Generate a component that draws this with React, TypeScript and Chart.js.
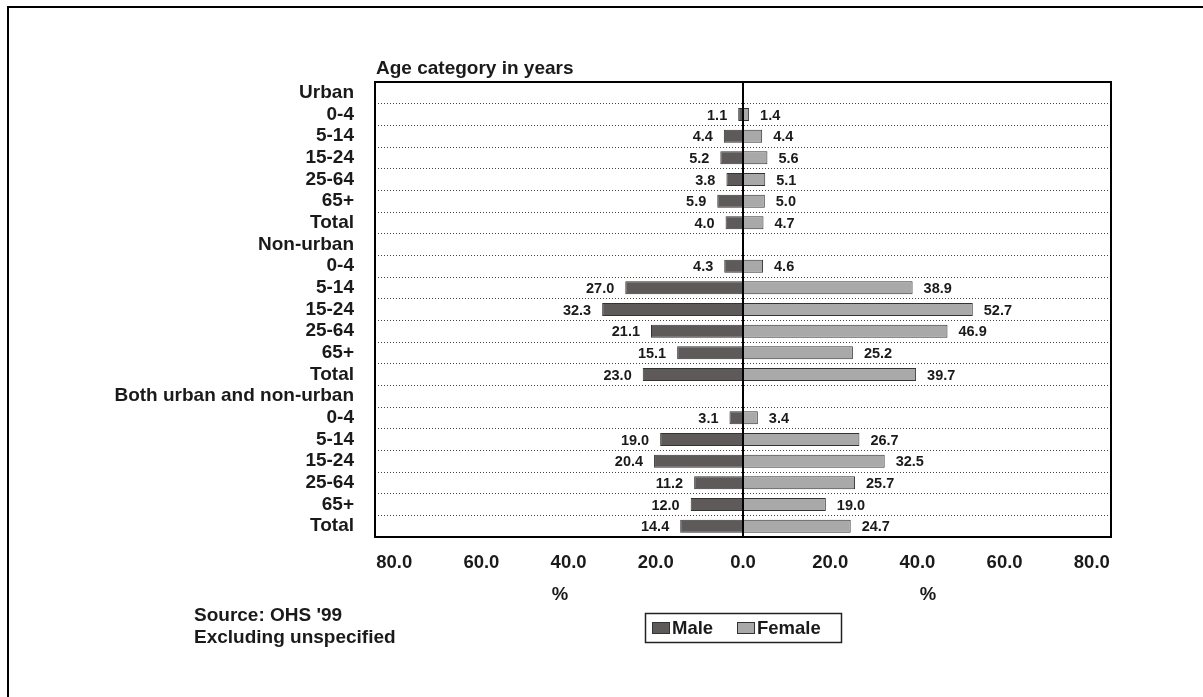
import React, { useEffect, useRef } from 'react';
import { Chart, registerables } from 'chart.js';

Chart.register(...registerables);

const categories = [
  'Urban', '0-4', '5-14', '15-24', '25-64', '65+', 'Total',
  'Non-urban', '0-4', '5-14', '15-24', '25-64', '65+', 'Total',
  'Both urban and non-urban', '0-4', '5-14', '15-24', '25-64', '65+', 'Total',
];
const maleValues: (number | null)[] = [
  null, 1.1, 4.4, 5.2, 3.8, 5.9, 4.0,
  null, 4.3, 27.0, 32.3, 21.1, 15.1, 23.0,
  null, 3.1, 19.0, 20.4, 11.2, 12.0, 14.4,
];
const femaleValues: (number | null)[] = [
  null, 1.4, 4.4, 5.6, 5.1, 5.0, 4.7,
  null, 4.6, 38.9, 52.7, 46.9, 25.2, 39.7,
  null, 3.4, 26.7, 32.5, 25.7, 19.0, 24.7,
];
const xTickValues = [-80, -60, -40, -20, 0, 20, 40, 60, 80];
const axisMin = -84.4;
const axisMax = 84.4;
const seriesNames = ['Male', 'Female'];
const titleText = 'Age category in years';
const axisUnit = '%';
const sourceLines = ["Source: OHS '99", 'Excluding unspecified'];

const FONT = '"Liberation Sans", Arial, Helvetica, sans-serif';
const MALE_COLOR = '#5f5a5a';
const FEMALE_COLOR = '#a9a9a9';
const BAR_BORDER = '#333333';
const TEXT = '#1a1a1a';

const decorPlugin = {
  id: 'decor',
  beforeDraw(chart: any) {
    const ctx = chart.ctx;
    ctx.save();
    ctx.fillStyle = '#ffffff';
    ctx.fillRect(0, 0, chart.width, chart.height);
    ctx.restore();
  },
  afterDatasetsDraw(chart: any) {
    const ctx = chart.ctx;
    const area = chart.chartArea;
    const xs = chart.scales.x;
    ctx.save();
    // data labels
    ctx.font = `bold 14.5px ${FONT}`;
    ctx.fillStyle = TEXT;
    ctx.textBaseline = 'middle';
    const raws = [maleValues, femaleValues];
    chart.data.datasets.forEach((_ds: any, di: number) => {
      const meta = chart.getDatasetMeta(di);
      meta.data.forEach((bar: any, j: number) => {
        const v = raws[di][j];
        if (v == null || !isFinite(bar.x)) return;
        const txt = v.toFixed(1);
        if (di === 0) {
          ctx.textAlign = 'right';
          ctx.fillText(txt, bar.x - 11, bar.y + 1);
        } else {
          ctx.textAlign = 'left';
          ctx.fillText(txt, bar.x + 11, bar.y + 1);
        }
      });
    });
    // zero line
    const zx = Math.round(xs.getPixelForValue(0));
    ctx.fillStyle = '#000';
    ctx.fillRect(zx - 1, area.top, 2, area.bottom - area.top);
    // plot border
    ctx.strokeStyle = '#000';
    ctx.lineWidth = 2;
    ctx.strokeRect(area.left, area.top, area.right - area.left, area.bottom - area.top);
    ctx.restore();
  },
  afterDraw(chart: any) {
    const ctx = chart.ctx;
    const area = chart.chartArea;
    const xs = chart.scales.x;
    ctx.save();
    // outer frame (top + left visible)
    ctx.fillStyle = '#000';
    ctx.fillRect(7, 6, 2000, 2);
    ctx.fillRect(7, 6, 2, 2000);
    // title
    ctx.fillStyle = TEXT;
    ctx.font = `bold 19px ${FONT}`;
    ctx.textAlign = 'left';
    ctx.textBaseline = 'alphabetic';
    ctx.fillText(titleText, area.left + 1, 74);
    // % labels
    const zx = xs.getPixelForValue(0);
    ctx.font = `bold 18.5px ${FONT}`;
    ctx.textAlign = 'center';
    ctx.fillText(axisUnit, (area.left + zx) / 2 + 1, 600);
    ctx.fillText(axisUnit, (zx + area.right) / 2 + 1, 600);
    // source
    ctx.textAlign = 'left';
    ctx.font = `bold 19px ${FONT}`;
    ctx.fillText(sourceLines[0], 194, 621);
    ctx.fillText(sourceLines[1], 194, 643);
    // legend
    ctx.strokeStyle = '#222';
    ctx.lineWidth = 1.5;
    ctx.strokeRect(645.5, 613.5, 196, 29);
    const sw = [
      { x: 652, color: MALE_COLOR, tx: 672 },
      { x: 737, color: FEMALE_COLOR, tx: 757 },
    ];
    ctx.font = `bold 18.5px ${FONT}`;
    sw.forEach((s, i) => {
      ctx.fillStyle = s.color;
      ctx.fillRect(s.x, 622, 17, 11);
      ctx.strokeStyle = BAR_BORDER;
      ctx.lineWidth = 1;
      ctx.strokeRect(s.x + 0.5, 622.5, 17, 11);
      ctx.fillStyle = TEXT;
      ctx.fillText(seriesNames[i], s.tx, 634);
    });
    ctx.restore();
  },
};

export default function App() {
  const ref = useRef<HTMLCanvasElement | null>(null);
  useEffect(() => {
    if (!ref.current) return;
    const chart = new Chart(ref.current, {
      type: 'bar',
      data: {
        labels: categories,
        datasets: [
          {
            label: seriesNames[0],
            data: maleValues.map((v) => (v == null ? null : -v)),
            backgroundColor: MALE_COLOR,
            borderColor: BAR_BORDER,
            borderWidth: 1,
            borderSkipped: false,
            barPercentage: 0.6,
            categoryPercentage: 1,
          },
          {
            label: seriesNames[1],
            data: femaleValues,
            backgroundColor: FEMALE_COLOR,
            borderColor: BAR_BORDER,
            borderWidth: 1,
            borderSkipped: false,
            barPercentage: 0.6,
            categoryPercentage: 1,
          },
        ],
      },
      options: {
        indexAxis: 'y',
        responsive: false,
        animation: false,
        devicePixelRatio: 1,
        layout: { padding: { left: 0, top: 82, right: 92, bottom: 120 } },
        plugins: {
          legend: { display: false },
          tooltip: { enabled: false },
          title: { display: false },
        },
        scales: {
          x: {
            type: 'linear',
            stacked: true,
            min: axisMin,
            max: axisMax,
            afterBuildTicks: (s: any) => {
              s.ticks = xTickValues.map((v) => ({ value: v }));
            },
            afterFit: (s: any) => {
              s.height = 40;
            },
            grid: { display: false },
            border: { display: false },
            ticks: {
              autoSkip: false,
              maxRotation: 0,
              padding: 7,
              color: TEXT,
              font: { family: FONT, size: 18.5, weight: 'bold' },
              callback: (v: any) => Math.abs(Number(v)).toFixed(1),
            },
          },
          y: {
            type: 'category',
            stacked: true,
            afterFit: (s: any) => {
              s.width = 375;
            },
            grid: {
              display: true,
              offset: true,
              color: '#444444',
              lineWidth: 1,
              drawTicks: false,
            },
            border: { display: false, dash: [1, 2] },
            ticks: {
              autoSkip: false,
              padding: 21,
              color: TEXT,
              font: { family: FONT, size: 19, weight: 'bold' },
            },
          },
        },
      },
      plugins: [decorPlugin],
    } as any);
    return () => chart.destroy();
  }, []);
  return (
    <div style={{ position: 'fixed', left: 0, top: 0, width: 1203, height: 697, background: '#fff' }}>
      <canvas ref={ref} width={1203} height={697} style={{ display: 'block', width: 1203, height: 697 }} />
    </div>
  );
}
